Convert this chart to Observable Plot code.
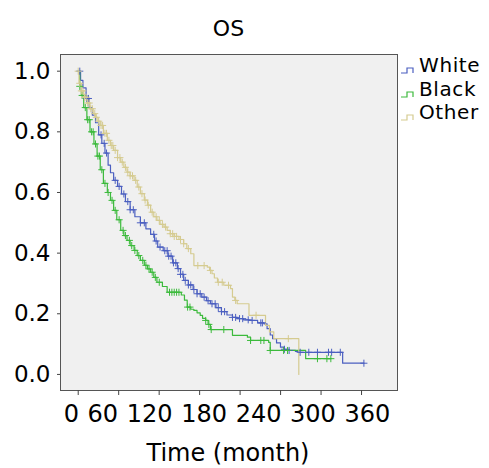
<!DOCTYPE html>
<html>
<head>
<meta charset="utf-8">
<script src="https://cdn.jsdelivr.net/npm/d3@7"></script>
<script src="https://cdn.jsdelivr.net/npm/@observablehq/plot@0.6"></script>
<style>
  html, body { margin: 0; padding: 0; background: #fff; }
  body { width: 489px; height: 468px; position: relative; overflow: hidden; font-family: "DejaVu Sans", sans-serif; color: #000; }
  #title { position: absolute; left: 0; top: 14px; width: 457px; text-align: center; font-size: 22px; line-height: 30px; }
  #chart { position: absolute; left: 0; top: 44px; }
  #xlabel { position: absolute; left: 0; top: 430px; width: 456px; text-align: center; font-size: 24px; line-height: 46px; }
  .lg { position: absolute; left: 400px; font-size: 20px; line-height: 22px; height: 22px; white-space: nowrap; }
  .lg svg { position: absolute; left: 0; top: 13px; }
  .lg span { position: absolute; left: 19px; top: 0; letter-spacing: 0.6px; }
</style>
</head>
<body>
<div id="title">OS</div>
<div id="chart"></div>
<div id="xlabel">Time (month)</div>
<div id="legend"></div>
<script>
// ---- data ----
const groups = ["White", "Black", "Other"];
const colors = ["#4b5fc0", "#3cba3c", "#d5cb90"];

const whiteT = [0, 3, 6, 10, 14, 18, 22, 26, 30, 34, 38, 41, 45, 50, 55, 60, 66, 72, 79, 86, 92, 97, 101, 108, 114, 120, 126, 130, 134, 140, 146, 151, 157, 163, 168, 175, 182, 189, 196, 202, 210, 217, 228, 236, 240, 244, 247, 252, 257, 262, 268, 276, 280, 336];
const whiteS = [1.0, 0.97, 0.945, 0.91, 0.88, 0.855, 0.83, 0.79, 0.762, 0.73, 0.69, 0.665, 0.64, 0.62, 0.595, 0.57, 0.543, 0.52, 0.5, 0.48, 0.462, 0.44, 0.42, 0.408, 0.39, 0.368, 0.349, 0.33, 0.31, 0.295, 0.28, 0.266, 0.255, 0.243, 0.233, 0.22, 0.207, 0.196, 0.188, 0.184, 0.18, 0.178, 0.17, 0.167, 0.151, 0.13, 0.118, 0.104, 0.09, 0.083, 0.079, 0.076, 0.073, 0.037];
const whiteCensor = [2, 11, 13, 29, 33, 36, 47, 52, 58, 63, 66, 70, 79, 84, 96, 99, 104, 110, 113, 115, 118, 121, 124, 127, 130, 133, 136, 140, 143, 147, 151, 155, 160, 165, 170, 174, 178, 182, 186, 196, 200, 205, 209, 216, 221, 232, 234, 262, 268, 282, 293, 304, 318, 322, 333, 363];

const blackT = [0, 2, 4, 7, 11, 15, 20, 24, 28, 32, 37, 41, 45, 49, 54, 58, 62, 66, 71, 75, 79, 84, 88, 92, 96, 100, 107, 113, 131, 135, 138.5, 143, 147, 151, 155, 158, 162, 165, 168, 196, 215, 219, 242, 244, 289];
const blackS = [1.0, 0.95, 0.92, 0.88, 0.84, 0.8, 0.76, 0.72, 0.675, 0.63, 0.6, 0.574, 0.541, 0.51, 0.475, 0.458, 0.442, 0.425, 0.409, 0.392, 0.376, 0.36, 0.348, 0.337, 0.32, 0.304, 0.29, 0.271, 0.262, 0.245, 0.222, 0.215, 0.211, 0.203, 0.195, 0.185, 0.178, 0.165, 0.148, 0.129, 0.123, 0.112, 0.106, 0.079, 0.052];
const blackCensor = [2, 5, 9, 12, 14, 17, 19, 22, 25, 27, 30, 34, 38, 43, 47, 52, 57, 60, 65, 68, 72, 77, 82, 86, 90, 94, 98, 103, 116, 119, 122, 125, 128, 139, 142, 162, 166, 169, 185, 219, 232, 236, 244, 261, 266, 304, 316, 321];

const otherT = [0, 1, 4, 7, 11, 15, 19, 22, 25, 28, 32, 37, 41, 45, 50, 54, 58, 62, 66, 71, 75, 79, 84, 88, 92, 96, 100, 104, 109, 113, 117, 122, 128, 134, 138, 143, 147, 164, 167, 170, 173, 177, 185, 193.5, 196, 199, 202, 217, 238, 243, 248.5, 280.3];
const otherS = [1.0, 0.96, 0.935, 0.914, 0.895, 0.876, 0.86, 0.848, 0.835, 0.821, 0.795, 0.772, 0.755, 0.739, 0.715, 0.7, 0.683, 0.667, 0.655, 0.64, 0.618, 0.596, 0.575, 0.558, 0.535, 0.52, 0.508, 0.495, 0.486, 0.475, 0.464, 0.455, 0.445, 0.431, 0.415, 0.398, 0.359, 0.354, 0.343, 0.332, 0.318, 0.304, 0.294, 0.283, 0.255, 0.244, 0.233, 0.195, 0.162, 0.14, 0.118, 0.0];
const otherCensor = [0, 2, 4, 6, 8, 10, 12, 14, 16, 18, 21, 23, 26, 29, 31, 34, 36, 39, 42, 44, 47, 50, 53, 56, 60, 63, 66, 69, 73, 77, 81, 85, 89, 94, 99, 103, 107, 111, 117, 120, 122, 125, 130, 134, 140, 152, 160, 168, 178, 183, 191, 200, 226, 267];

const yTicks = [0, 0.2, 0.4, 0.6, 0.8, 1.0];
const xTickLabels = ["0", "60", "120", "180", "240", "300", "360"];
const xTickCount = 8;

// ---- build tables ----
const series = [
  {g: groups[0], T: whiteT, S: whiteS, C: whiteCensor},
  {g: groups[1], T: blackT, S: blackS, C: blackCensor},
  {g: groups[2], T: otherT, S: otherS, C: otherCensor}
];
const stepVal = (T, S, t) => { let v = S[0]; for (let i = 0; i < T.length; i++) { if (T[i] <= t) v = S[i]; else break; } return v; };
const lineRows = [], censorRows = [];
for (const s of series) {
  s.T.forEach((t, i) => lineRows.push({g: s.g, t, s: s.S[i]}));
  const lastC = Math.max(...s.C), lastT = s.T[s.T.length - 1];
  if (lastC > lastT) lineRows.push({g: s.g, t: lastC, s: s.S[s.S.length - 1]});
  s.C.forEach(t => censorRows.push({g: s.g, t, s: stepVal(s.T, s.S, t)}));
}
const xMax = Math.max(...xTickLabels.map(Number));
const xTicks = d3.range(xTickCount).map(i => i * xMax / (xTickCount - 1));

const cross = { draw(ctx, size) { const r = Math.sqrt(size) / 2; ctx.moveTo(-r, 0); ctx.lineTo(r, 0); ctx.moveTo(0, -r); ctx.lineTo(0, r); } };

const chart = Plot.plot({
  width: 489,
  height: 386,
  marginLeft: 60,
  marginRight: 92,
  marginTop: 10,
  marginBottom: 40,
  style: {fontFamily: "DejaVu Sans, sans-serif", fontSize: "23px", background: "transparent", color: "#000"},
  x: {domain: [-22.5, 405.7]},
  y: {domain: [-0.053, 1.055]},
  color: {domain: groups, range: colors},
  marks: [
    Plot.frame({fill: "#f0f0f0", stroke: null}),
    Plot.line(lineRows, {x: "t", y: "s", z: "g", stroke: "g", curve: "step-after", strokeWidth: 1.2}),
    Plot.dot(censorRows, {x: "t", y: "s", stroke: "g", symbol: cross, r: 4, fill: "none", strokeWidth: 1}),
    Plot.frame({stroke: "#555", strokeWidth: 1}),
    Plot.axisY({ticks: yTicks, tickFormat: d3.format(".1f"), tickSize: 3, tickPadding: 7, label: null, fontSize: 23, stroke: "#444"}),
    Plot.axisX({ticks: xTicks, tickFormat: () => "", tickSize: 5, label: null, stroke: "#444"}),
    Plot.text([xTickLabels.join(" ")], {text: d => d, frameAnchor: "bottom", lineAnchor: "middle", dy: 24, dx: -2, fontSize: 24, fill: "#000"})
  ]
});
chart.querySelectorAll("text").forEach(t => { if (t.textContent.includes("0 60")) t.style.wordSpacing = "1px"; });
document.getElementById("chart").appendChild(chart);

// ---- legend (to the right of the plot) ----
const lg = document.getElementById("legend");
groups.forEach((g, i) => {
  const d = document.createElement("div");
  d.className = "lg";
  d.style.top = (54 + i * 23.5) + "px";
  d.innerHTML = `<svg width="18" height="7"><path d="M1,6 H7 V1 H13 V6" fill="none" stroke="${colors[i]}" stroke-width="1.2"/></svg><span>${g}</span>`;
  lg.appendChild(d);
});
</script>
</body>
</html>
